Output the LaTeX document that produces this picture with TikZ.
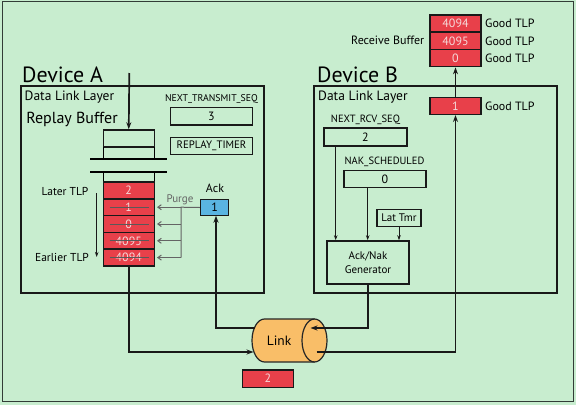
\documentclass[tikz,border=0pt]{standalone}
\usepackage{fontspec}
\setmainfont{PT Sans}
\usetikzlibrary{arrows.meta}
\definecolor{bgc}{RGB}{200,237,207}
\definecolor{cellred}{RGB}{232,64,74}
\definecolor{celltxt}{RGB}{245,218,218}
\definecolor{ackblue}{RGB}{90,180,225}
\definecolor{linkor}{RGB}{249,190,104}
\definecolor{purgegray}{RGB}{100,100,100}
\definecolor{framec}{RGB}{50,60,55}
\tikzset{
  devbox/.style={draw=black!90, line width=1.8pt, inner sep=0pt},
  regbox/.style={draw=black!90, line width=1.5pt, inner sep=0pt, minimum width=81.6pt, minimum height=17.3pt, font=\fontsize{12}{13}\selectfont},
  cellbox/.style={draw=black!90, fill=cellred, line width=1.5pt, inner sep=0pt, minimum width=51pt, minimum height=16.8pt, text=celltxt, font=\fontsize{12}{13}\selectfont},
  lbl/.style={inner sep=0pt, font=\fontsize{10.5}{12}\selectfont},
  biglbl/.style={inner sep=0pt, anchor=base west, font=\fontsize{22}{24}\selectfont},
  dll/.style={inner sep=0pt, anchor=base west, font=\fontsize{13.5}{15}\selectfont},
  conn/.style={line width=1.7pt, draw=black!90},
  thinconn/.style={line width=0.9pt, draw=black!90},
  arr/.style={-{Stealth[length=7pt,width=5pt]}},
  sarr/.style={-{Stealth[length=5pt,width=3.5pt]}},
  purge/.style={line width=1pt, draw=purgegray, -{Straight Barb[length=3.5pt,width=5pt]}},
  strike/.style={line width=1pt, draw=black!65},
}
\begin{document}
\begin{tikzpicture}[x=1pt,y=-1pt]
\useasboundingbox (0,0) rectangle (576,405);
\fill[bgc] (0,0) rectangle (576,405);
\draw[framec, line width=1pt] (2,1) rectangle (573,401);

% Device boxes
\node[devbox, minimum width=243pt, minimum height=207pt] (devA) at (142.5,189.5) {};
\node[devbox, minimum width=243pt, minimum height=207pt] (devB) at (435.5,189.5) {};
\node[biglbl] (devAlbl) at (22,82.5) {Device A};
\node[biglbl] (devBlbl) at (317,82.5) {Device B};
\node[dll] (dllA) at (24.5,100.5) {Data Link Layer};
\node[dll] (dllB) at (318,100.5) {Data Link Layer};

% Replay buffer
\node[inner sep=0pt, font=\fontsize{16}{18}\selectfont] (rbl) at (72,119) {Replay Buffer};
\node[draw=black!90, line width=1.5pt, minimum width=51pt, minimum height=17pt, inner sep=0pt] (slot1) at (128.75,138.5) {};
\draw[line width=1.5pt] (103.25,147) -- (103.25,159) (154.25,147) -- (154.25,159);
\draw[line width=1.5pt] (90,159) -- (167,159);
\draw[line width=1.5pt] (90,172) -- (167,172);
\draw[line width=1.5pt] (103.25,172) -- (103.25,182) (154.25,172) -- (154.25,182);
\coordinate (topin) at (129.3,73);
\draw[conn, arr] (topin) -- (slot1.north);

\node[cellbox] (c2) at (128.75,190.4) {2};
\node[cellbox] (c1) at (128.75,207.2) {1};
\node[cellbox] (c0) at (128.75,224) {0};
\node[cellbox] (c4095) at (128.75,240.8) {4095};
\node[cellbox] (c4094) at (128.75,257.6) {4094};
\foreach \n in {c1,c0,c4095,c4094}{
  \draw[strike] ([xshift=7pt]\n.west) -- ([xshift=-6pt]\n.east);
}

\node[lbl, font=\fontsize{11.5}{13}\selectfont] (later) at (65,191) {Later TLP};
\node[lbl, font=\fontsize{11.5}{13}\selectfont] (earlier) at (62,257) {Earlier TLP};
\coordinate (ltA) at (96.7,193);
\coordinate (ltB) at (96.7,257);
\draw[thinconn, sarr] (ltA) -- (ltB);

% Registers A
\node[lbl, font=\fontsize{9.8}{11}\selectfont] (ntsl) at (211.5,99.5) {NEXT\_TRANSMIT\_SEQ};
\node[regbox] (nts) at (211.5,116.3) {3};
\node[regbox, font=\fontsize{10.8}{12}\selectfont] (rt) at (211.5,146) {REPLAY\_TIMER};

% Ack
\node[draw=black!90, fill=ackblue, line width=1.5pt, minimum width=28pt, minimum height=16.4pt, inner sep=0pt, font=\fontsize{12}{13}\selectfont] (ack) at (214.7,207.5) {1};
\node[lbl, font=\fontsize{12}{13}\selectfont] (acklbl) at (215,188.5) {Ack};
\node[lbl, text=purgegray, font=\fontsize{11}{12}\selectfont] (purgelbl) at (180,200) {Purge};
\coordinate (pj1) at (181,207.2);
\coordinate (pj4) at (181,257.6);
\draw[line width=1pt, purgegray] (ack.west) -- (pj1) -- (pj4);
\draw[purge] (pj1) -- ([xshift=2pt]c1.east);
\draw[purge] (181,224) -- ([xshift=2pt]c0.east);
\draw[purge] (181,240.8) -- ([xshift=2pt]c4095.east);
\draw[purge] (pj4) -- ([xshift=2pt]c4094.east);

% Device B registers
\node[lbl] (nrsl) at (365.5,120) {NEXT\_RCV\_SEQ};
\node[regbox, minimum width=83pt, minimum height=17.7pt] (nrs) at (365.5,137) {2};
\node[lbl] (nakl) at (384.5,162) {NAK\_SCHEDULED};
\node[regbox, minimum width=82pt, minimum height=16.6pt] (nak) at (385,179) {0};
\node[regbox, minimum width=43.7pt, minimum height=17.4pt, font=\fontsize{11}{12}\selectfont] (lat) at (399,218) {Lat Tmr};
\node[regbox, minimum width=82.3pt, minimum height=43pt, align=center, font=\fontsize{11}{13.5}\selectfont] (gen) at (368,262.5) {Ack/Nak\\Generator};
\draw[thinconn, sarr] (nrs.south -| 335.7,0) -- (gen.north -| 335.7,0);
\draw[thinconn, sarr] (nak.south -| 367.7,0) -- (gen.north -| 367.7,0);
\draw[thinconn, sarr] (lat.south) -- (gen.north -| lat.south);

% Receive buffer
\node[cellbox, minimum height=17.2pt] (r4094) at (455.5,23.7) {4094};
\node[cellbox, minimum height=17.2pt] (r4095) at (455.5,40.8) {4095};
\node[cellbox, minimum height=17.2pt] (r0) at (455.5,58) {0};
\node[cellbox, minimum height=17pt] (r1) at (455.5,105.8) {1};
\node[lbl, anchor=west, font=\fontsize{12}{13}\selectfont] (g1) at (485,23.7) {Good TLP};
\node[lbl, anchor=west, font=\fontsize{12}{13}\selectfont] (g2) at (485,40.8) {Good TLP};
\node[lbl, anchor=west, font=\fontsize{12}{13}\selectfont] (g3) at (485,58) {Good TLP};
\node[lbl, anchor=west, font=\fontsize{12}{13}\selectfont] (g4) at (485,105.8) {Good TLP};
\node[lbl, anchor=east, font=\fontsize{12}{13}\selectfont] (rbuf) at (424.5,40.5) {Receive Buffer};
\draw[conn, arr] (r1.north) -- (r0.south);

% Link cylinder
\fill[linkor] (264.5,319) -- (314.5,319) arc[start angle=-90, end angle=90, x radius=12.5, y radius=21.5]
  -- (264.5,362) arc[start angle=90, end angle=270, x radius=12.5, y radius=21.5] -- cycle;
\draw[line width=1.2pt, black!85] (264.5,319) -- (314.5,319) (314.5,362) -- (264.5,362) arc[start angle=90, end angle=270, x radius=12.5, y radius=21.5];
\draw[line width=1.2pt, black!85] (314.5,340.5) ellipse[x radius=12.5, y radius=21.5];
\node[inner sep=0pt, font=\fontsize{13.5}{15}\selectfont] (link) at (279,340.5) {Link};
\coordinate (lkInL) at (253.5,352);
\coordinate (lkOutL) at (254.5,328);
\coordinate (lkInR) at (310.5,328);
\coordinate (lkOutR) at (316.7,352);

\draw[conn, arr] (c4094.south) -- (128.75,352) -- (lkInL);
\draw[conn, arr] (lkOutL) -- (216,328) -- (216,215.7);
\draw[conn, arr] (gen.south) -- (gen.south |- lkInR) -- (lkInR);
\draw[conn, arr] (lkOutR) -- (455.5,352) -- (r1.south);

\node[cellbox, minimum height=17.3pt] (tx2) at (267.8,378.7) {2};
\end{tikzpicture}
\end{document}
